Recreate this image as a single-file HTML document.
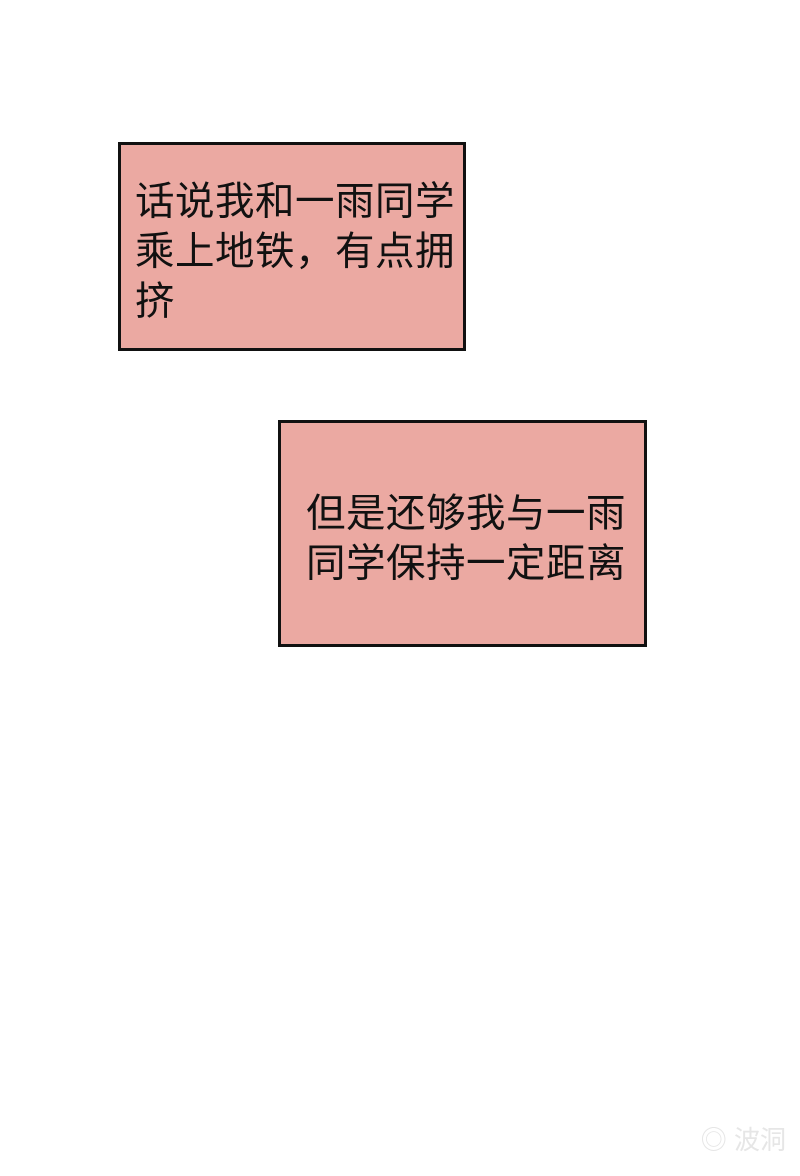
<!DOCTYPE html>
<html><head><meta charset="utf-8"><style>
body{margin:0;width:800px;height:1176px;background:#fff;position:relative;overflow:hidden;font-family:"Liberation Sans","Noto Sans CJK SC",sans-serif;}
.b{position:absolute;background:#eba9a2;border:3px solid #111;box-sizing:border-box;}
.t{position:absolute;font-size:39.5px;line-height:50px;color:#111;white-space:nowrap;letter-spacing:0.5px;}
.w{position:absolute;right:14px;top:1120px;color:#e6e6e6;font-size:26px;}
</style></head><body>
<div class="b" style="left:118px;top:142px;width:348px;height:209px"></div>
<div class="t" style="left:135px;top:177px">话说我和一雨同学<br>乘上地铁，有点拥<br>挤</div>
<div class="b" style="left:278px;top:420px;width:369px;height:227px"></div>
<div class="t" style="left:306px;top:489px">但是还够我与一雨<br>同学保持一定距离</div>
<div class="w">◎ 波洞</div>
</body></html>
